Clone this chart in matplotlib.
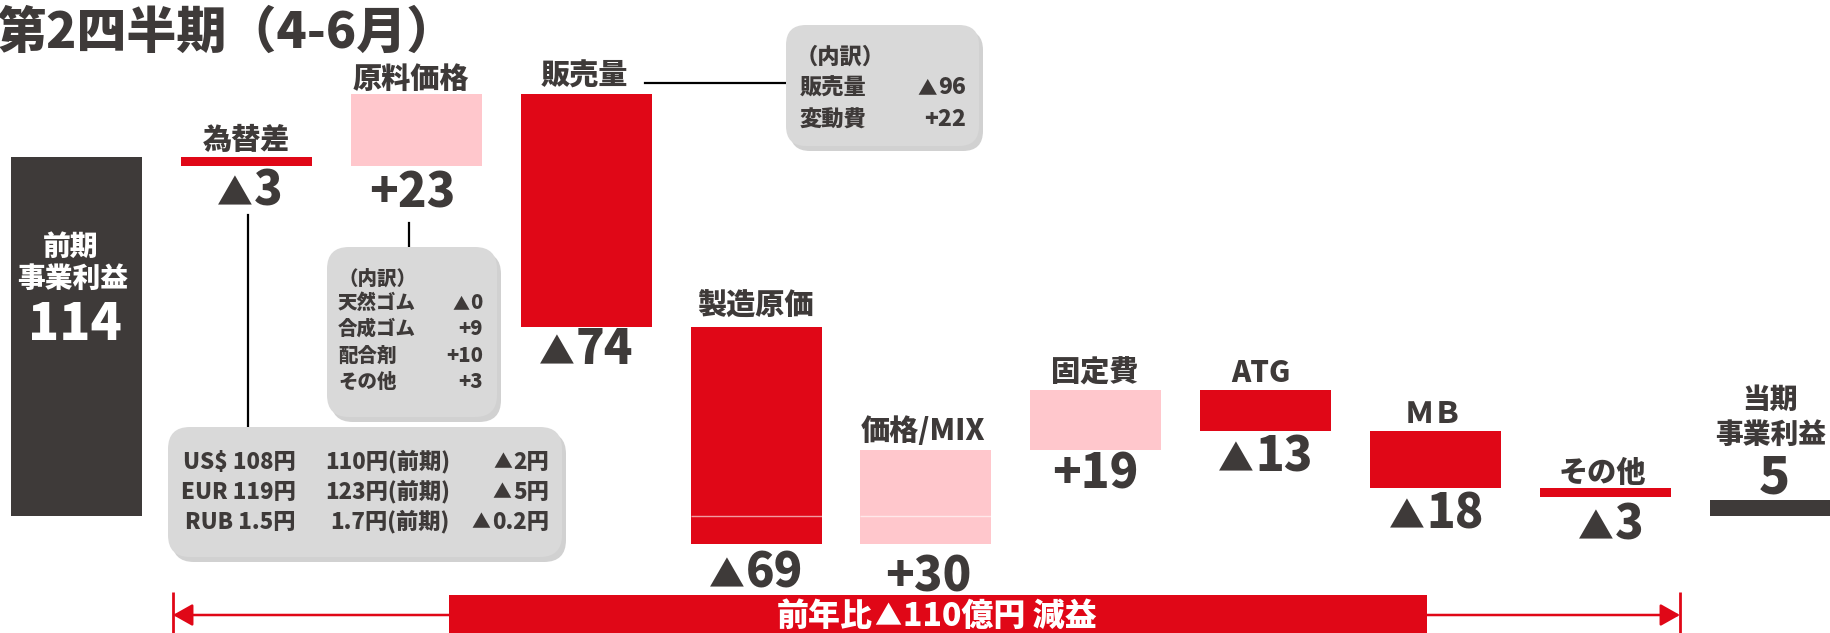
import numpy as np
import matplotlib
matplotlib.use("Agg")
import matplotlib.pyplot as plt
from matplotlib.patches import FancyBboxPatch, Rectangle, FancyArrowPatch
from matplotlib.offsetbox import TextArea, HPacker, AnnotationBbox

plt.rcParams['font.family'] = ['Noto Sans CJK JP', 'DejaVu Sans']
plt.rcParams['font.weight'] = 'heavy'

# --- データ（億円） ---
title = '第2四半期（4-6月）'
categories = ['前期', '為替差', '原料価格', '販売量', '製造原価', '価格/MIX',
              '固定費', 'ATG', 'ＭＢ', 'その他', '当期']
start_value = 114
deltas = [-3, 23, -74, -69, 30, 19, -13, -18, -3]
end_value = 5

fx_rows = [('US$ 108円', '110円(前期)', '▲2円'),
           ('EUR 119円', '123円(前期)', '▲5円'),
           ('RUB 1.5円', '1.7円(前期)', '▲0.2円')]
raw_rows = [('天然ゴム', '▲0'), ('合成ゴム', '+9'), ('配合剤', '+10'), ('その他', '+3')]
vol_rows = [('販売量', '▲96'), ('変動費', '+22')]
total_label = '前年比▲110億円 減益'

# --- 色 ---
RED = '#E00717'
PINK = '#FFC7CC'
DARK = '#3E3A39'
TXT = '#3E3A39'
BOX = '#D9D9D9'

W, H = 1831, 633
fig = plt.figure(figsize=(W / 100, H / 100), dpi=100)

# 棒グラフ用（x=項目番号, y=億円）
ax = fig.add_axes([0, 0, 1, 1])
step = 169.9   # 項目間隔(px)
x0px = 76.5    # 先頭の棒の中心(px)
ppu = 3.15     # 1億円あたりのpx
zero_px = 516
ax.set_xlim(-x0px / step, (W - x0px) / step)
ax.set_ylim((zero_px - H) / ppu, zero_px / ppu)
ax.axis('off')
bw = 131 / step

xs = np.arange(len(categories))
ax.bar(xs[0], start_value, width=bw, color=DARK)
cum = start_value
for i, d in enumerate(deltas, start=1):
    bottom = cum if d > 0 else cum + d
    ax.bar(xs[i], abs(d), bottom=bottom, width=bw, color=PINK if d > 0 else RED)
    if bottom < 0 < bottom + abs(d):
        ax.hlines(0, xs[i] - bw / 2, xs[i] + bw / 2, color='white', lw=1, alpha=0.6)
    cum += d
ax.bar(xs[-1], end_value, width=bw, color=DARK)

# 注記用（ピクセル座標）
ov = fig.add_axes([0, 0, 1, 1])
ov.set_xlim(0, W)
ov.set_ylim(H, 0)
ov.axis('off')
ov.patch.set_alpha(0)


def fmt(v):
    return f'▲{abs(v)}' if v < 0 else f'+{v}'


def tri_text(x, y, s, size, color=TXT, align=0.5, tri=0.78, z=5):
    # ▲だけ少し小さくして並べる
    parts = []
    chunks = s.split('▲')
    for k, c in enumerate(chunks):
        if k > 0:
            parts.append(TextArea('▲', textprops=dict(fontsize=size * tri, color=color)))
        if c:
            parts.append(TextArea(c, textprops=dict(fontsize=size, color=color)))
    pk = HPacker(children=parts, align='baseline', pad=0, sep=1)
    ab = AnnotationBbox(pk, (x, y), frameon=False, box_alignment=(align, 0.5),
                        pad=0, zorder=z)
    ov.add_artist(ab)


def rbox(x0, y0, x1, y1, r=18):
    sh = FancyBboxPatch((x0 + 4, y0 + 5), x1 - x0, y1 - y0,
                        boxstyle=f'round,pad=0,rounding_size={r}',
                        fc='#9a9a9a', ec='none', alpha=0.45, zorder=2)
    bx = FancyBboxPatch((x0, y0), x1 - x0, y1 - y0,
                        boxstyle=f'round,pad=0,rounding_size={r}',
                        fc=BOX, ec='none', zorder=3)
    ov.add_patch(sh)
    ov.add_patch(bx)


ov.text(-3, 33, title, fontsize=36, color=TXT, ha='left', va='center')

# 項目名と増減額の位置(px)
name_pos = [None, (247, 140), (411, 79), (584, 76), (755, 306), (923, 431),
            (1095, 373), (1261, 373), (1434, 414), (1602, 473), None]
val_pos = [(250, 191), (412, 193), (586, 350), (756, 573), (928, 577),
           (1095, 474), (1265, 457), (1436, 514), (1611, 525)]

for i in range(1, len(categories) - 1):
    ov.text(*name_pos[i], categories[i], fontsize=21, color=TXT, ha='center', va='center')
    tri_text(*val_pos[i - 1], fmt(deltas[i - 1]), 34, tri=0.76)

# 前期・当期
ov.text(71, 247, categories[0], fontsize=20, color='white', ha='center', va='center')
ov.text(73, 279, '事業利益', fontsize=20, color='white', ha='center', va='center')
ov.text(75, 325, str(start_value), fontsize=37, color='white', ha='center', va='center')
ov.text(1770, 400, categories[-1], fontsize=20, color=TXT, ha='center', va='center')
ov.text(1771, 435, '事業利益', fontsize=20, color=TXT, ha='center', va='center')
ov.text(1774, 478, str(end_value), fontsize=37, color=TXT, ha='center', va='center')

# 吹き出し線
ov.plot([248, 248], [215, 427], color='black', lw=1.6, zorder=1)
ov.plot([409, 409], [223, 247], color='black', lw=1.6, zorder=1)
ov.plot([645, 786], [83, 83], color='black', lw=1.6, zorder=1)

# 為替ボックス
rbox(168, 427, 562, 557, r=22)
for (a, b, c), y in zip(fx_rows, [462, 492, 522]):
    ov.text(296, y, a, fontsize=16, color=TXT, ha='right', va='center', zorder=4)
    ov.text(450, y, b, fontsize=16, color=TXT, ha='right', va='center', zorder=4)
    tri_text(549, y, c, 16, align=1.0, tri=0.85)

# 原料内訳ボックス
rbox(327, 247, 497, 417, r=22)
ov.text(339, 279, '（内訳）', fontsize=14, color=TXT, ha='left', va='center', zorder=4)
for (a, b), y in zip(raw_rows, [303, 329, 356, 382]):
    ov.text(338, y, a, fontsize=14, color=TXT, ha='left', va='center', zorder=4)
    tri_text(483, y, b, 14.5, align=1.0, tri=0.85)

# 販売量内訳ボックス
rbox(786, 25, 979, 146, r=20)
ov.text(796, 57, '（内訳）', fontsize=16, color=TXT, ha='left', va='center', zorder=4)
for (a, b), y in zip(vol_rows, [88, 120]):
    ov.text(800, y, a, fontsize=16, color=TXT, ha='left', va='center', zorder=4)
    tri_text(966, y, b, 16.5, align=1.0, tri=0.85)

# 下部の矢印と帯
ov.vlines([173, 1680], 592, 640, color=RED, lw=2)
arr = FancyArrowPatch((173, 615), (1680, 615),
                      arrowstyle='<|-|>,head_length=0.8,head_width=0.45',
                      mutation_scale=15, color=RED, lw=1.8,
                      shrinkA=0, shrinkB=0, zorder=2)
ov.add_patch(arr)
ov.add_patch(Rectangle((449, 595), 1427 - 449, 50, fc=RED, ec='none', zorder=3))
tri_text(937, 616, total_label, 23, color='white', tri=0.85)

fig.savefig('out.png', dpi=100)
